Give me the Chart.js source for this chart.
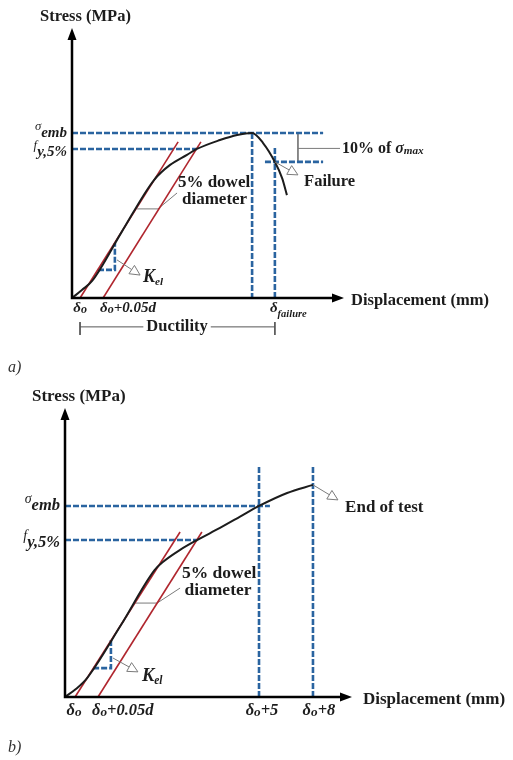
<!DOCTYPE html>
<html>
<head>
<meta charset="utf-8">
<script src="https://cdn.jsdelivr.net/npm/chart.js@4.4.1/dist/chart.umd.min.js"></script>
<style>
  body { margin: 0; background: #fff; }
  canvas { display: block; }
</style>
</head>
<body>
<canvas id="chartA" width="513" height="380"></canvas>
<canvas id="chartB" width="513" height="380"></canvas>
<script>
// ---------- panel a) : test that reaches failure ----------
const curveAX = [0, 0.37, 0.75, 1.85, 3.06, 3.66, 4.29, 4.66, 5.52, 6.16, 6.72, 7.13, 7.57, 7.84, 8.02];
const curveAY = [0, 2.96, 6.3, 24.4, 43.7, 49.3, 53.0, 55.2, 58.5, 60.4, 61.1, 57.4, 50.4, 44.4, 38.1];
const elasticAX = [0.30, 3.96];
const offsetAX = [1.16, 4.81];
const redLineAY = [0, 57.8];
const sigmaEmbA = 61.1;
const fyA = 55.2;
const peakAX = 6.72;
const failAX = 7.57;
const failAY = 50.4;
const xTicksA = [0.30, 1.16, 7.57];
const xTickLabelsA = ['δ_{o}', 'δ_{o}+0.05d', 'δ_{failure}'];
const yTicksA = [sigmaEmbA, fyA];
const yTickLabelsA = ['^{σ}emb', '^{f}y,5%'];

// ---------- panel b) : test stopped before failure ----------
const curveBX = [0, 0.38, 0.77, 1.95, 3.12, 3.41, 4.01, 4.60, 5.40, 6.10, 6.76, 7.74, 8.64];
const curveBY = [0, 2.77, 6.57, 24.9, 43.9, 46.7, 50.9, 54.3, 58.5, 62.4, 66.1, 70.6, 73.4];
const elasticBX = [0.35, 4.01];
const offsetBX = [1.15, 4.77];
const redLineBY = [0, 57.1];
const sigmaEmbB = 66.1;
const fyB = 54.3;
const limit5BX = 6.76;
const limit8BX = 8.64;
const xTicksB = [0.35, 1.15, 6.76, 8.64];
const xTickLabelsB = ['δ_{o}', 'δ_{o}+0.05d', 'δ_{o}+5', 'δ_{o}+8'];
const yTicksB = [sigmaEmbB, fyB];
const yTickLabelsB = ['^{σ}emb', '^{f}y,5%'];

const SERIF = '"Liberation Serif", "Times New Roman", serif';
const BLUE = '#2a64a0';
const RED = '#b0262e';
const GREY = '#7a7a7a';
const INK = '#1c1c1c';

const pts = (xs, ys) => xs.map((x, i) => ({ x, y: ys[i] }));

const styles = {
  curve: { borderColor: INK, borderWidth: 2, cubicInterpolationMode: 'monotone' },
  red: { borderColor: RED, borderWidth: 1.6 },
  dash: { borderColor: BLUE, borderWidth: 2.6, borderDash: [6, 2] },
  grey: { borderColor: GREY, borderWidth: 1 },
  dim: { borderColor: '#555', borderWidth: 1 }
};

function line(data, style) {
  return { data, showLine: true, pointRadius: 0, fill: false, ...styles[style] };
}

// small rich-text helper: _{..} subscript, ^{..} superscript, *{..} italic
function parseRich(str) {
  const parts = [];
  const re = /([_^*])\{([^}]*)\}/g;
  let last = 0, m;
  while ((m = re.exec(str))) {
    if (m.index > last) parts.push({ t: str.slice(last, m.index), k: '' });
    parts.push({ t: m[2], k: m[1] });
    last = re.lastIndex;
  }
  if (last < str.length) parts.push({ t: str.slice(last), k: '' });
  return parts;
}

function drawRich(ctx, str, x, y, o) {
  const size = o.size;
  const style = o.style || 'bold';
  const subStyle = o.subStyle || style;
  const parts = parseRich(str).map(p => {
    const small = p.k === '_' || p.k === '^';
    const s = small ? size * (o.sub || 0.72) : size;
    const st = p.k === '*' ? 'bold italic' : (small ? subStyle : style);
    const dy = p.k === '_' ? size * (o.subDy ?? 0.3) : p.k === '^' ? -size * (o.supDy ?? 0.35) : 0;
    return { ...p, font: `${st} ${s}px ${SERIF}`, dy };
  });
  let w = 0;
  parts.forEach(p => { ctx.font = p.font; p.w = ctx.measureText(p.t).width; w += p.w; });
  let cx = o.align === 'center' ? x - w / 2 : o.align === 'right' ? x - w : x;
  if (o.bg) {
    ctx.fillStyle = '#fff';
    ctx.fillRect(cx - 3, y - size * 0.6, w + 6, size * 1.2);
  }
  ctx.fillStyle = o.color || INK;
  ctx.textBaseline = 'middle';
  ctx.textAlign = 'left';
  parts.forEach(p => { ctx.font = p.font; ctx.fillText(p.t, cx, y + p.dy); cx += p.w; });
}

function openArrow(ctx, x0, y0, x1, y1) {
  const a = Math.atan2(y1 - y0, x1 - x0);
  const len = 10, hw = 5;
  const bx = x1 - len * Math.cos(a), by = y1 - len * Math.sin(a);
  ctx.strokeStyle = GREY;
  ctx.lineWidth = 1;
  ctx.beginPath(); ctx.moveTo(x0, y0); ctx.lineTo(bx, by); ctx.stroke();
  ctx.beginPath();
  ctx.moveTo(x1, y1);
  ctx.lineTo(bx + hw * Math.sin(a), by - hw * Math.cos(a));
  ctx.lineTo(bx - hw * Math.sin(a), by + hw * Math.cos(a));
  ctx.closePath();
  ctx.fillStyle = '#fff'; ctx.fill(); ctx.stroke();
}

function sketchPlugin(cfg) {
  return {
    id: 'sketch',
    afterDatasetsDraw(chart) {
      const { ctx } = chart;
      const X = v => chart.scales.x.getPixelForValue(v);
      const Y = v => chart.scales.y.getPixelForValue(v);
      ctx.save();
      // axes with filled arrowheads
      const ox = X(0), oy = Y(0), tx = X(cfg.xEnd), ty = Y(cfg.yEnd);
      ctx.strokeStyle = '#000'; ctx.fillStyle = '#000'; ctx.lineWidth = 2.5;
      ctx.beginPath(); ctx.moveTo(ox, ty + 10); ctx.lineTo(ox, oy); ctx.lineTo(tx - 10, oy); ctx.stroke();
      ctx.beginPath(); ctx.moveTo(ox, ty); ctx.lineTo(ox - 4.5, ty + 12); ctx.lineTo(ox + 4.5, ty + 12); ctx.closePath(); ctx.fill();
      ctx.beginPath(); ctx.moveTo(tx, oy); ctx.lineTo(tx - 12, oy - 4.5); ctx.lineTo(tx - 12, oy + 4.5); ctx.closePath(); ctx.fill();
      drawRich(ctx, 'Stress (MPa)', ox - cfg.titleDx, ty - 11, { size: cfg.titleSize });
      drawRich(ctx, 'Displacement (mm)', tx + cfg.dispDx, oy + 3, { size: cfg.titleSize });
      // arrows pointing at annotations
      cfg.arrows.forEach(a => openArrow(ctx, X(a[0]), Y(a[1]), X(a[2]), Y(a[3])));
      // tick labels on both axes
      cfg.xTicks.forEach((v, i) => {
        const t = cfg.xTickPlace[i];
        drawRich(ctx, cfg.xTickLabels[i], X(v) + t.dx, oy + cfg.tickGap, {
          size: cfg.tickSize, style: 'bold italic', align: t.align, sub: t.sub || 0.8, subDy: t.subDy || 0.12
        });
      });
      cfg.yTicks.forEach((v, i) => {
        drawRich(ctx, cfg.yTickLabels[i], ox - 5, Y(v) + cfg.yTickDy[i], {
          size: cfg.tickSize, style: 'bold italic', subStyle: 'italic', align: 'right', sub: 0.85, supDy: 0.4
        });
      });
      cfg.texts.forEach(t => drawRich(ctx, t.t, X(t.x), Y(t.y), t));
      drawRich(ctx, cfg.panel, 8, 368, { size: 16, style: 'italic', color: '#333' });
      ctx.restore();
    }
  };
}

function makeChart(id, datasets, frame, cfg) {
  return new Chart(document.getElementById(id), {
    type: 'scatter',
    data: { datasets },
    options: {
      responsive: false,
      animation: false,
      layout: { padding: 0 },
      plugins: { legend: { display: false }, tooltip: { enabled: false } },
      scales: {
        x: { type: 'linear', display: false, min: -frame.ox / frame.kx, max: (513 - frame.ox) / frame.kx },
        y: { type: 'linear', display: false, min: -(380 - frame.oy) / frame.ky, max: frame.oy / frame.ky }
      }
    },
    plugins: [sketchPlugin(cfg)]
  });
}

// ---------- chart a ----------
const guideEndA = 9.37;
const tenPctX = 8.43;
makeChart('chartA', [
  line(pts(curveAX, curveAY), 'curve'),
  line(pts(elasticAX, redLineAY), 'red'),
  line(pts(offsetAX, redLineAY), 'red'),
  line([{ x: 0, y: sigmaEmbA }, { x: guideEndA, y: sigmaEmbA }], 'dash'),
  line([{ x: 0, y: fyA }, { x: 4.66, y: fyA }], 'dash'),
  line([{ x: peakAX, y: sigmaEmbA }, { x: peakAX, y: 0 }], 'dash'),
  line([{ x: 7.2, y: failAY }, { x: guideEndA, y: failAY }], 'dash'),
  line([{ x: failAX, y: 55.6 }, { x: failAX, y: 0 }], 'dash'),
  line([{ x: 0.97, y: 10.4 }, { x: 1.60, y: 10.4 }, { x: 1.60, y: 20.4 }], 'dash'),
  line([{ x: 2.43, y: 33.0 }, { x: 3.21, y: 33.0 }, { x: 3.92, y: 38.9 }], 'grey'),
  line([{ x: tenPctX, y: sigmaEmbA }, { x: tenPctX, y: failAY }], 'grey'),
  line([{ x: tenPctX, y: 55.4 }, { x: 10.0, y: 55.4 }], 'grey'),
  line([{ x: xTicksA[0], y: -10.7 }, { x: failAX, y: -10.7 }], 'dim'),
  line([{ x: xTicksA[0], y: -8.9 }, { x: xTicksA[0], y: -13.7 }], 'dim'),
  line([{ x: failAX, y: -8.9 }, { x: failAX, y: -13.7 }], 'dim')
], { ox: 72, oy: 298, kx: 26.8, ky: 2.7 }, {
  xEnd: 10.15, yEnd: 100, titleDx: 32, dispDx: 7, titleSize: 16.5,
  tickSize: 15, tickGap: 10,
  xTicks: xTicksA, xTickLabels: xTickLabelsA,
  xTickPlace: [{ align: 'center', dx: 0 }, { align: 'left', dx: -3 }, { align: 'left', dx: -5, sub: 0.7, subDy: 0.45 }],
  yTicks: yTicksA, yTickLabels: yTickLabelsA, yTickDy: [0, 3],
  arrows: [[1.68, 14.1, 2.54, 8.5], [failAX, failAY, 8.43, 45.6]],
  texts: [
    { t: '5% dowel', x: 5.30, y: 42.6, align: 'center', size: 17 },
    { t: 'diameter', x: 5.32, y: 36.3, align: 'center', size: 17 },
    { t: 'Failure', x: 8.66, y: 43.0, size: 16.5 },
    { t: '10% of *{σ}_{max}', x: 10.07, y: 55.2, size: 16, subStyle: 'bold italic', sub: 0.7, subDy: 0.15 },
    { t: 'K_{el}', x: 2.65, y: 7.8, size: 18, style: 'bold italic', sub: 0.62, subDy: 0.3 },
    { t: 'Ductility', x: 3.92, y: -10.7, align: 'center', size: 16.5, bg: true }
  ],
  panel: 'a)'
});

// ---------- chart b ----------
makeChart('chartB', [
  line(pts(curveBX, curveBY), 'curve'),
  line(pts(elasticBX, redLineBY), 'red'),
  line(pts(offsetBX, redLineBY), 'red'),
  line([{ x: 0, y: sigmaEmbB }, { x: 7.14, y: sigmaEmbB }], 'dash'),
  line([{ x: 0, y: fyB }, { x: 4.60, y: fyB }], 'dash'),
  line([{ x: limit5BX, y: 79.6 }, { x: limit5BX, y: 0 }], 'dash'),
  line([{ x: limit8BX, y: 79.6 }, { x: limit8BX, y: 0 }], 'dash'),
  line([{ x: 0.98, y: 10.0 }, { x: 1.60, y: 10.0 }, { x: 1.60, y: 19.7 }], 'dash'),
  line([{ x: 2.44, y: 32.5 }, { x: 3.21, y: 32.5 }, { x: 4.01, y: 37.7 }], 'grey')
], { ox: 65, oy: 317, kx: 28.7, ky: 2.89 }, {
  xEnd: 10, yEnd: 100, titleDx: 33, dispDx: 11, titleSize: 17,
  tickSize: 16.5, tickGap: 14,
  xTicks: xTicksB, xTickLabels: xTickLabelsB,
  xTickPlace: [{ align: 'center', dx: -1 }, { align: 'left', dx: -6 }, { align: 'center', dx: 3 }, { align: 'center', dx: 6 }],
  yTicks: yTicksB, yTickLabels: yTickLabelsB, yTickDy: [0, 3],
  arrows: [[1.67, 13.5, 2.54, 8.7], [limit8BX, 73.4, 9.51, 68.2]],
  texts: [
    { t: '5% dowel', x: 5.37, y: 42.9, align: 'center', size: 17.5 },
    { t: 'diameter', x: 5.33, y: 36.7, align: 'center', size: 17.5 },
    { t: 'End of test', x: 9.76, y: 65.7, size: 17 },
    { t: 'K_{el}', x: 2.68, y: 7.3, size: 18.5, style: 'bold italic', sub: 0.62, subDy: 0.3 }
  ],
  panel: 'b)'
});
</script>
</body>
</html>
